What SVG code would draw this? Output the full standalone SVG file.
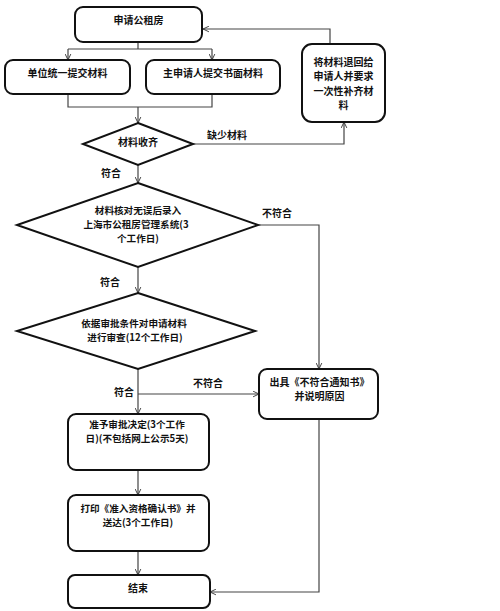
<svg xmlns="http://www.w3.org/2000/svg" width="500" height="611" viewBox="0 0 500 611">
<defs>
<marker id="arr" viewBox="0 0 10 10" refX="9.5" refY="5" markerWidth="7" markerHeight="7" markerUnits="userSpaceOnUse" orient="auto">
<path d="M1,1 L9.5,5 L1,9" fill="none" stroke="#333" stroke-width="1.3"/>
</marker>
</defs>
<style>
.box{fill:#fff;stroke:#111;stroke-width:2}
.dia{fill:#fff;stroke:#111;stroke-width:2}
.ln{fill:none;stroke:#444;stroke-width:1.2}
text{font-family:"Noto Sans CJK SC","Liberation Serif",serif;font-size:10px;font-weight:bold;fill:#111;text-anchor:middle}
text.s{font-size:9.6px}
</style>
<rect width="500" height="611" fill="#fff"/>
<g id="connectors">
<path class="ln" d="M330,44 V29 H203" marker-end="url(#arr)"/>
<path class="ln" d="M138,42 V49"/>
<path class="ln" d="M68,49 H212"/>
<path class="ln" d="M68,49 V60" marker-end="url(#arr)"/>
<path class="ln" d="M212,49 V60" marker-end="url(#arr)"/>
<path class="ln" d="M68,94 V107 H212 V94"/>
<path class="ln" d="M138,107 V123" marker-end="url(#arr)"/>
<path class="ln" d="M193,144 H344 V122" marker-end="url(#arr)"/>
<path class="ln" d="M138,165 V183" marker-end="url(#arr)"/>
<path class="ln" d="M258,225 H319 V369" marker-end="url(#arr)"/>
<path class="ln" d="M138,267 V293" marker-end="url(#arr)"/>
<path class="ln" d="M138,369 V414" marker-end="url(#arr)"/>
<path class="ln" d="M138,394 H259" marker-end="url(#arr)"/>
<path class="ln" d="M138,470 V495" marker-end="url(#arr)"/>
<path class="ln" d="M138,551 V575" marker-end="url(#arr)"/>
<path class="ln" d="M319,419 V592 H210" marker-end="url(#arr)"/>
<text x="227" y="138.5">缺少材料</text>
<text x="111" y="176.5">符合</text>
<text x="277" y="216.5">不符合</text>
<text x="110" y="285.5">符合</text>
<text x="208" y="386.5">不符合</text>
<text x="124" y="395.5">符合</text>
</g>
<g id="n1"><rect class="box" x="75" y="7" width="127" height="35" rx="8"/><text x="138.5" y="23.5">申请公租房</text></g>
<g id="n2"><rect class="box" x="5" y="60" width="125" height="34" rx="8"/><text x="67.5" y="76.5">单位统一提交材料</text></g>
<g id="n3"><rect class="box" x="146" y="60" width="134" height="34" rx="8"/><text x="213" y="76.5">主申请人提交书面材料</text></g>
<g id="n4"><rect class="box" x="302" y="44" width="83" height="78" rx="10"/>
<text x="343.5" y="65.5">将材料退回给</text><text x="343.5" y="80">申请人并要求</text><text x="343.5" y="94.5">一次性补齐材</text><text x="343.5" y="109">料</text></g>
<g id="d1"><polygon class="dia" points="138,123 193,144 138,165 83,144"/><text x="138" y="145.5">材料收齐</text></g>
<g id="d2"><polygon class="dia" points="138,183 258,225 138,267 17,225"/>
<text class="s" x="138" y="214.3">材料核对无误后录入</text><text class="s" x="136" y="228.3">上海市公租房管理系统(3</text><text class="s" x="138" y="242.3">个工作日)</text></g>
<g id="d3"><polygon class="dia" points="138,293 255,331 138,369 17,331"/>
<text class="s" x="134" y="327.3">依据审批条件对申请材料</text><text class="s" x="135" y="341.3">进行审查(12个工作日)</text></g>
<g id="n5"><rect class="box" x="259" y="369" width="119" height="50" rx="8"/>
<text x="319.5" y="385.5">出具《不符合通知书》</text><text x="319.5" y="399.5">并说明原因</text></g>
<g id="n6"><rect class="box" x="68" y="414" width="141" height="56" rx="8"/>
<text class="s" x="137" y="428.3">准予审批决定(3个工作</text><text class="s" x="137" y="442.3">日)(不包括网上公示5天)</text></g>
<g id="n7"><rect class="box" x="68" y="495" width="141" height="56" rx="8"/>
<text class="s" x="138" y="512.3">打印《准入资格确认书》并</text><text class="s" x="138" y="526.3">送达(3个工作日)</text></g>
<g id="n8"><rect class="box" x="68" y="575" width="142" height="33" rx="7"/><text x="138" y="591.5">结束</text></g>
</svg>
